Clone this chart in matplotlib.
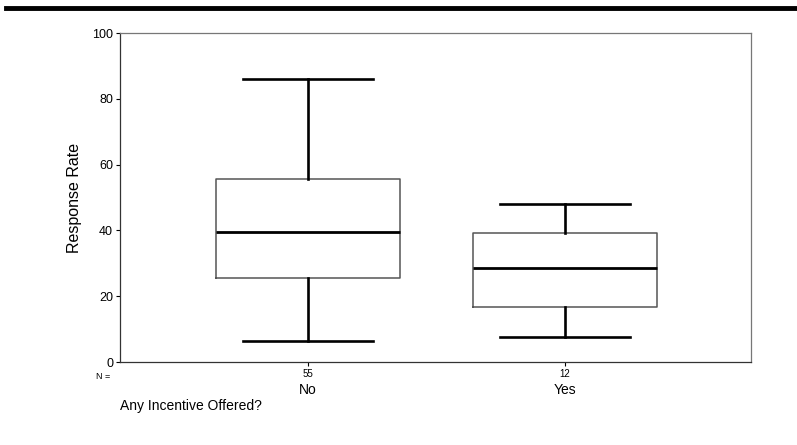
import matplotlib.pyplot as plt
from matplotlib.lines import Line2D

plt.rcParams['font.family'] = ['Liberation Sans', 'DejaVu Sans']

# five-number summaries
groups = ["No", "Yes"]
counts = [55, 12]
whisker_low = [6.4, 7.5]
q1 = [25.6, 16.8]
median = [39.6, 28.7]
q3 = [55.7, 39.3]
whisker_high = [86.1, 48.0]

stats = []
for i, g in enumerate(groups):
    stats.append({
        "label": g,
        "whislo": whisker_low[i],
        "q1": q1[i],
        "med": median[i],
        "q3": q3[i],
        "whishi": whisker_high[i],
        "fliers": [],
    })

fig = plt.figure(figsize=(7.97, 4.45), dpi=100)
ax = fig.add_axes([0.1506, 0.1865, 0.7917, 0.7393])

positions = [1, 2]
ax.bxp(stats, positions=positions, widths=0.716, capwidths=0.506,
       showfliers=False,
       boxprops=dict(color="#555555", linewidth=1.1),
       medianprops=dict(color="black", linewidth=2.0),
       whiskerprops=dict(color="black", linewidth=1.9),
       capprops=dict(color="black", linewidth=1.9))

ax.set_xlim(0.2685, 2.724)
ax.set_ylim(0, 100)
ax.set_yticks([0, 20, 40, 60, 80, 100])
ax.tick_params(axis="y", labelsize=9, length=3, width=0.8, pad=2)
ax.set_xticks(positions)
ax.set_xticklabels([str(n) for n in counts])
ax.tick_params(axis="x", labelsize=7, length=3, width=0.8, pad=2)

for side in ["left", "bottom"]:
    ax.spines[side].set_color("#333333")
    ax.spines[side].set_linewidth(0.9)
for side in ["top", "right"]:
    ax.spines[side].set_color("#777777")
    ax.spines[side].set_linewidth(0.9)

ax.set_ylabel("Response Rate", fontsize=11.5, labelpad=7)

# category names under the N counts
for x, g in zip(positions, groups):
    ax.text(x, -0.085, g, transform=ax.get_xaxis_transform(),
            ha="center", va="center", fontsize=10)
ax.text(-0.027, -0.045, "N =", transform=ax.transAxes,
        ha="center", va="center", fontsize=6.5)

fig.text(120 / 797, 1 - 406 / 445, "Any Incentive Offered?",
         ha="left", va="center", fontsize=10)

# heavy rule across the top of the page
fig.add_artist(Line2D([6 / 797, 1.0], [1 - 8 / 445, 1 - 8 / 445],
                      color="black", linewidth=3.5, transform=fig.transFigure))

fig.savefig("out.png", dpi=100)
